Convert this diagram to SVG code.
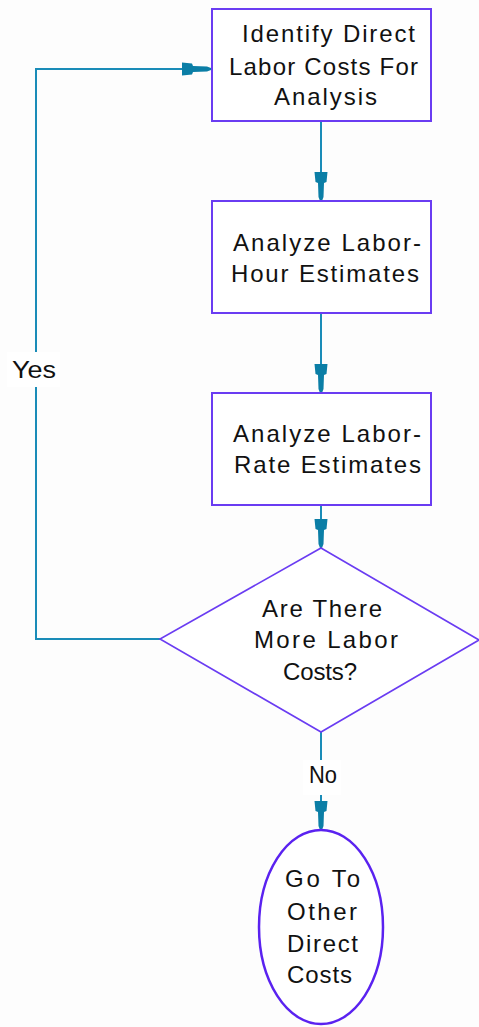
<svg xmlns="http://www.w3.org/2000/svg" width="479" height="1027" viewBox="0 0 479 1027">
<style>
.node{fill:#ffffff;stroke:#6a3cf2;stroke-width:2}
.dia{fill:#ffffff;stroke:#6a3cf2;stroke-width:1.6}
.ell{fill:#ffffff;stroke:#5a22f0;stroke-width:2.5}
.t{font-family:"Liberation Sans",Arial,sans-serif;font-size:24px;fill:#111111}
.conn{fill:none;stroke:#1a8cb8;stroke-width:2}
.lbl{fill:#ffffff}
</style>
<defs>
<polygon id="ah" points="-6.5,-29 6.5,-29 5.5,-19 3,-18 2.5,-4 1,0 -1,0 -2.5,-4 -3,-18 -5.5,-19" fill="#0b7ea6"/>
</defs>
<rect x="0" y="0" width="479" height="1027" fill="#fdfdfd"/>
<g id="connectors">
<path class="conn" d="M321,121 V201"/>
<use href="#ah" x="321" y="201"/>
<path class="conn" d="M321,313 V393"/>
<use href="#ah" x="321" y="393"/>
<path class="conn" d="M321,505 V548"/>
<use href="#ah" x="321" y="548"/>
<path class="conn" d="M160,639 H36 V69 H212"/>
<use href="#ah" transform="translate(211,69) rotate(-90)"/>
<path class="conn" d="M321,732 V830"/>
<use href="#ah" x="321" y="830"/>
<g id="label-yes">
<rect class="lbl" x="7" y="352" width="53" height="35"/>
<text class="t" x="12" y="378" textLength="44" lengthAdjust="spacingAndGlyphs">Yes</text>
</g>
<g id="label-no">
<rect class="lbl" x="303" y="760" width="38" height="35"/>
<text class="t" x="309" y="783" textLength="28" lengthAdjust="spacingAndGlyphs">No</text>
</g>
</g>
<g id="node-identify">
<rect class="node" x="212" y="9" width="219" height="112"/>
<text class="t" x="242" y="42" textLength="173" lengthAdjust="spacing">Identify Direct</text>
<text class="t" x="229" y="75" textLength="189" lengthAdjust="spacing">Labor Costs For</text>
<text class="t" x="274" y="105" textLength="103" lengthAdjust="spacing">Analysis</text>
</g>
<g id="node-hour">
<rect class="node" x="212" y="201" width="219" height="112"/>
<text class="t" x="233" y="251" textLength="188" lengthAdjust="spacing">Analyze Labor-</text>
<text class="t" x="231" y="282" textLength="188" lengthAdjust="spacing">Hour Estimates</text>
</g>
<g id="node-rate">
<rect class="node" x="212" y="393" width="219" height="112"/>
<text class="t" x="233" y="442" textLength="188" lengthAdjust="spacing">Analyze Labor-</text>
<text class="t" x="234" y="473" textLength="187" lengthAdjust="spacing">Rate Estimates</text>
</g>
<g id="node-decision">
<polygon class="dia" points="321,548 479,640 321,732 160,639"/>
<text class="t" x="262" y="617" textLength="120" lengthAdjust="spacing">Are There</text>
<text class="t" x="254" y="648" textLength="144" lengthAdjust="spacing">More Labor</text>
<text class="t" x="283" y="680" textLength="74" lengthAdjust="spacing">Costs?</text>
</g>
<g id="node-other">
<ellipse class="ell" cx="321" cy="927" rx="62" ry="97"/>
<text class="t" x="285" y="887" textLength="75" lengthAdjust="spacing">Go To</text>
<text class="t" x="287" y="920" textLength="70" lengthAdjust="spacing">Other</text>
<text class="t" x="287" y="952" textLength="71" lengthAdjust="spacing">Direct</text>
<text class="t" x="287" y="983" textLength="65" lengthAdjust="spacing">Costs</text>
</g>
</svg>
